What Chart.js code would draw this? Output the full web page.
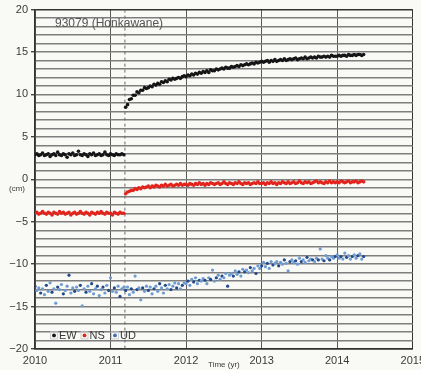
<!DOCTYPE html>
<html>
<head>
<meta charset="utf-8">
<script src="https://cdn.jsdelivr.net/npm/chart.js@4/dist/chart.umd.min.js"></script>
<style>
    html, body { margin: 0; padding: 0; background: #f9f9f6; overflow: hidden; }
    .chart-wrap { width: 430px; height: 370px; }
</style>
</head>
<body>
<div class="chart-wrap"><canvas id="chart" width="430" height="370"></canvas></div>
<script>
// decimal years, one sample every ~9 days; the gap sits at the 2011-03-11 quake
const TIMES = [
    2010.000, 2010.025, 2010.050, 2010.075, 2010.100, 2010.125, 2010.150, 2010.175,
    2010.200, 2010.225, 2010.250, 2010.275, 2010.300, 2010.325, 2010.350, 2010.375,
    2010.400, 2010.425, 2010.450, 2010.475, 2010.500, 2010.525, 2010.550, 2010.575,
    2010.600, 2010.625, 2010.650, 2010.675, 2010.700, 2010.725, 2010.750, 2010.775,
    2010.800, 2010.825, 2010.850, 2010.875, 2010.900, 2010.925, 2010.950, 2010.975,
    2011.000, 2011.025, 2011.050, 2011.075, 2011.100, 2011.125, 2011.150, 2011.175,
    2011.200, 2011.225, 2011.250, 2011.275, 2011.300, 2011.325, 2011.350, 2011.375,
    2011.400, 2011.425, 2011.450, 2011.475, 2011.500, 2011.525, 2011.550, 2011.575,
    2011.600, 2011.625, 2011.650, 2011.675, 2011.700, 2011.725, 2011.750, 2011.775,
    2011.800, 2011.825, 2011.850, 2011.875, 2011.900, 2011.925, 2011.950, 2011.975,
    2012.000, 2012.025, 2012.050, 2012.075, 2012.100, 2012.125, 2012.150, 2012.175,
    2012.200, 2012.225, 2012.250, 2012.275, 2012.300, 2012.325, 2012.350, 2012.375,
    2012.400, 2012.425, 2012.450, 2012.475, 2012.500, 2012.525, 2012.550, 2012.575,
    2012.600, 2012.625, 2012.650, 2012.675, 2012.700, 2012.725, 2012.750, 2012.775,
    2012.800, 2012.825, 2012.850, 2012.875, 2012.900, 2012.925, 2012.950, 2012.975,
    2013.000, 2013.025, 2013.050, 2013.075, 2013.100, 2013.125, 2013.150, 2013.175,
    2013.200, 2013.225, 2013.250, 2013.275, 2013.300, 2013.325, 2013.350, 2013.375,
    2013.400, 2013.425, 2013.450, 2013.475, 2013.500, 2013.525, 2013.550, 2013.575,
    2013.600, 2013.625, 2013.650, 2013.675, 2013.700, 2013.725, 2013.750, 2013.775,
    2013.800, 2013.825, 2013.850, 2013.875, 2013.900, 2013.925, 2013.950, 2013.975,
    2014.000, 2014.025, 2014.050, 2014.075, 2014.100, 2014.125, 2014.150, 2014.175,
    2014.200, 2014.225, 2014.250, 2014.275, 2014.300, 2014.325, 2014.350
];

const EW = [
    2.9, 3.0, 2.8, 2.9, 3.1, 2.8, 2.9, 3.0,
    2.7, 2.9, 3.0, 2.8, 3.2, 2.9, 2.8, 3.0,
    2.9, 2.6, 3.0, 2.9, 3.1, 2.8, 2.9, 3.3,
    2.9, 2.8, 3.0, 2.9, 2.7, 3.0, 2.9, 3.1,
    2.8, 2.9, 3.0, 2.8, 2.9, 3.2, 2.9, 2.8,
    3.0, 2.9, 2.8, 3.0, 2.9, 2.9, 3.0, 2.9,
    8.5, 8.8, 9.4, 9.5, 9.9, 9.9, 10.3, 10.2,
    10.5, 10.5, 10.8, 10.7, 10.8, 11.0, 10.9, 11.2,
    11.1, 11.3, 11.2, 11.5, 11.4, 11.6, 11.5, 11.8,
    11.7, 11.9, 11.8, 11.9, 12.0, 11.9, 12.1, 12.2,
    12.1, 12.3, 12.2, 12.4, 12.3, 12.5, 12.4, 12.6,
    12.5, 12.7, 12.6, 12.8, 12.6, 12.9, 12.8, 12.8,
    13.0, 12.9, 13.0, 13.1, 13.0, 13.2, 13.1, 13.1,
    13.3, 13.2, 13.3, 13.4, 13.3, 13.5, 13.4, 13.5,
    13.6, 13.5, 13.6, 13.7, 13.6, 13.8, 13.7, 13.8,
    13.9, 13.8, 13.9, 14.0, 13.8, 14.0, 13.9, 14.1,
    13.9, 14.0, 14.1, 14.0, 14.2, 14.0, 14.1, 14.2,
    14.1, 14.2, 14.3, 14.1, 14.2, 14.3, 14.2, 14.4,
    14.2, 14.3, 14.4, 14.3, 14.4, 14.3, 14.5, 14.4,
    14.4, 14.5, 14.4, 14.5, 14.4, 14.6, 14.5, 14.5,
    14.5, 14.6, 14.5, 14.6, 14.6, 14.5, 14.7, 14.6,
    14.6, 14.7, 14.6, 14.7, 14.7, 14.6, 14.7
];

const NS = [
    -4.0, -3.9, -4.1, -4.0, -3.8, -4.0, -4.1, -3.9,
    -4.0, -4.2, -3.9, -4.0, -4.1, -3.8, -4.0, -3.9,
    -4.1, -4.0, -3.9, -4.2, -4.0, -3.9, -4.1, -4.0,
    -3.8, -4.0, -4.1, -3.9, -4.0, -4.2, -3.9, -4.0,
    -4.1, -3.9, -4.0, -3.8, -4.0, -4.1, -3.9, -4.0,
    -4.0, -4.2, -3.9, -4.0, -4.1, -3.9, -4.0, -4.0,
    -1.7, -1.5, -1.4, -1.3, -1.3, -1.1, -1.2, -1.0,
    -1.1, -0.9, -1.0, -0.9, -0.8, -1.0, -0.8, -0.9,
    -0.7, -0.8, -0.9, -0.7, -0.8, -0.6, -0.8, -0.7,
    -0.6, -0.8, -0.7, -0.6, -0.7, -0.5, -0.7, -0.6,
    -0.6, -0.7, -0.5, -0.6, -0.7, -0.5, -0.6, -0.4,
    -0.6, -0.5, -0.7, -0.5, -0.6, -0.4, -0.5, -0.6,
    -0.5, -0.4, -0.6, -0.5, -0.3, -0.5, -0.6, -0.4,
    -0.5, -0.6, -0.4, -0.5, -0.3, -0.5, -0.6, -0.4,
    -0.5, -0.4, -0.6, -0.5, -0.4, -0.5, -0.3, -0.5,
    -0.5, -0.4, -0.6, -0.4, -0.5, -0.3, -0.5, -0.4,
    -0.6, -0.4, -0.5, -0.3, -0.4, -0.5, -0.3, -0.5,
    -0.4, -0.3, -0.5, -0.4, -0.2, -0.4, -0.5, -0.3,
    -0.4, -0.3, -0.5, -0.4, -0.3, -0.2, -0.4, -0.3,
    -0.4, -0.5, -0.3, -0.4, -0.2, -0.4, -0.3, -0.4,
    -0.3, -0.4, -0.2, -0.3, -0.4, -0.3, -0.2, -0.4,
    -0.3, -0.3, -0.2, -0.4, -0.3, -0.2, -0.3
];

const UD = [
    -12.6, -13.1, -12.8, -13.4, -12.9, -13.6, -12.5, -13.2,
    -12.2, -13.3, -12.9, -14.6, -12.7, -13.0, -12.4, -13.5,
    -13.1, -12.6, -11.3, -13.4, -12.8, -13.2, -12.7, -13.1,
    -12.5, -14.9, -12.9, -13.3, -12.6, -13.2, -12.3, -13.5,
    -12.9, -12.6, -13.7, -13.0, -12.7, -13.4, -12.5, -13.1,
    -11.6, -13.2, -12.8, -13.3, -12.6, -13.8, -12.9, -12.7,
    -13.1, -12.7, -13.6, -12.9, -13.3, -11.4, -13.0, -12.8,
    -14.2, -12.8, -13.2, -12.6, -13.1, -12.7, -13.5, -12.9,
    -12.6, -13.2, -12.3, -12.8, -13.4, -12.5, -12.9, -12.4,
    -13.0, -12.6, -12.2, -12.8, -12.3, -12.9, -12.5, -12.2,
    -12.3, -12.0, -12.5, -11.8, -12.1, -11.6, -12.3, -11.9,
    -12.0, -11.7, -11.9, -12.3, -11.6, -11.8, -10.7, -12.0,
    -11.6, -11.3, -11.8, -11.4, -11.6, -11.1, -12.6, -11.3,
    -11.1, -11.4, -10.8, -11.2, -10.9, -11.4, -10.6, -10.9,
    -10.7, -11.0, -10.4, -10.8, -10.5, -11.1, -10.2, -10.5,
    -10.2, -9.8, -10.3, -9.9, -10.5, -9.7, -10.1, -9.9,
    -9.7, -10.2, -9.8, -10.0, -9.5, -9.9, -10.8, -9.7,
    -9.5, -9.8, -9.6, -10.0, -9.3, -9.7, -9.5, -9.8,
    -9.2, -9.6, -9.4, -9.5, -9.7, -9.3, -9.5, -8.2,
    -9.4, -9.6, -9.0, -9.3, -9.5, -9.1, -9.3, -9.1,
    -8.9, -9.3, -9.1, -9.4, -8.7, -9.2, -9.0, -9.4,
    -9.1, -8.9, -9.3, -9.0, -8.8, -9.4, -9.1
];

const SERIES_NAMES = ['EW', 'NS', 'UD'];
const SERIES_COLORS = ['#151515', '#e3241c', '#3f6fb4'];
const YEAR_TICKS = [2010, 2011, 2012, 2013, 2014, 2015];
const QUAKE_TIME = 2011.19;
const STATION_LABEL = '93079 (Honkawane)';

const FONT = "'Liberation Sans', Arial, sans-serif";
const TEXT_COLOR = '#3a3a3a';

function toPoints(values) {
    return TIMES.map((t, i) => ({x: t, y: values[i]}));
}

const decorations = {
    id: 'decorations',
    beforeDatasetsDraw(chart) {
        const {ctx, chartArea, scales} = chart;
        const x = scales.x.getPixelForValue(QUAKE_TIME);
        ctx.save();
        ctx.strokeStyle = '#6a6a6a';
        ctx.lineWidth = 1;
        ctx.setLineDash([3, 3]);
        ctx.beginPath();
        ctx.moveTo(x, chartArea.top);
        ctx.lineTo(x, chartArea.bottom);
        ctx.stroke();
        ctx.restore();
    },
    afterDraw(chart) {
        const {ctx, chartArea, scales} = chart;
        ctx.save();
        ctx.fillStyle = '#555';
        ctx.textBaseline = 'middle';

        // station name
        ctx.font = `12px ${FONT}`;
        ctx.textAlign = 'left';
        ctx.fillText(STATION_LABEL, chartArea.left + 20, scales.y.getPixelForValue(18.3));

        // unit + axis title
        ctx.fillStyle = TEXT_COLOR;
        ctx.font = `8px ${FONT}`;
        ctx.textAlign = 'center';
        ctx.fillText('(cm)', chartArea.left - 18, scales.y.getPixelForValue(-1.1));
        ctx.fillText('Time (yr)', scales.x.getPixelForValue(2012.5), chartArea.bottom + 16);

        // legend
        ctx.font = `11px ${FONT}`;
        ctx.textAlign = 'left';
        const ly = scales.y.getPixelForValue(-18.4);
        let lx = chartArea.left + 19;
        SERIES_NAMES.forEach((name, i) => {
            ctx.strokeStyle = '#cfcfcf';
            ctx.lineWidth = 1;
            ctx.strokeRect(lx - 3.5, ly - 3.5, 7, 7);
            ctx.fillStyle = SERIES_COLORS[i];
            ctx.beginPath();
            ctx.arc(lx, ly, 1.9, 0, Math.PI * 2);
            ctx.fill();
            ctx.fillStyle = TEXT_COLOR;
            ctx.fillText(name, lx + 5, ly + 0.5);
            lx += 30.5;
        });
        ctx.restore();
    }
};

const datasets = [EW, NS, UD].map((values, i) => ({
    label: SERIES_NAMES[i],
    data: toPoints(values),
    showLine: false,
    pointRadius: i === 2 ? 1.6 : 1.8,
    pointBorderWidth: 0,
    pointBackgroundColor: i === 2
        ? (c) => (c.dataIndex % 3 === 0 ? '#234a88' : '#6f9bd3')
        : SERIES_COLORS[i],
}));

new Chart(document.getElementById('chart'), {
    type: 'scatter',
    data: {datasets},
    options: {
        responsive: false,
        animation: false,
        layout: {padding: {left: 0, top: 3, right: 12, bottom: 0}},
        plugins: {
            legend: {display: false},
            tooltip: {enabled: false},
        },
        scales: {
            x: {
                type: 'linear',
                min: 2010,
                max: 2015,
                afterBuildTicks: (scale) => {
                    scale.ticks = YEAR_TICKS.map(v => ({value: v}));
                },
                afterFit: (scale) => { scale.height = 21; },
                ticks: {
                    callback: v => String(v),
                    color: TEXT_COLOR,
                    font: {family: FONT, size: 11},
                    padding: 5,
                    maxRotation: 0,
                },
                grid: {
                    color: (c) => (c.tick && c.tick.value === 2015 ? '#333' : '#5a5a5a'),
                    lineWidth: 1,
                    drawTicks: false,
                },
                border: {color: '#333', width: 1.5},
            },
            y: {
                min: -20,
                max: 20,
                afterFit: (scale) => { scale.width = 35; },
                ticks: {
                    stepSize: 1,
                    autoSkip: false,
                    callback: v => (v % 5 === 0 ? (v < 0 ? '\u2212' + Math.abs(v) : String(v)) : ''),
                    color: TEXT_COLOR,
                    font: {family: FONT, size: 11},
                    padding: 3,
                },
                grid: {
                    color: (c) => (c.tick && Math.abs(c.tick.value) === 20 ? '#333' : '#7e7e7e'),
                    lineWidth: 1.4,
                    tickLength: 4,
                    tickColor: (c) => (c.tick && c.tick.value % 5 === 0 ? '#444' : 'rgba(0,0,0,0)'),
                },
                border: {color: '#333', width: 1.5},
            },
        },
    },
    plugins: [decorations],
});
</script>
</body>
</html>
